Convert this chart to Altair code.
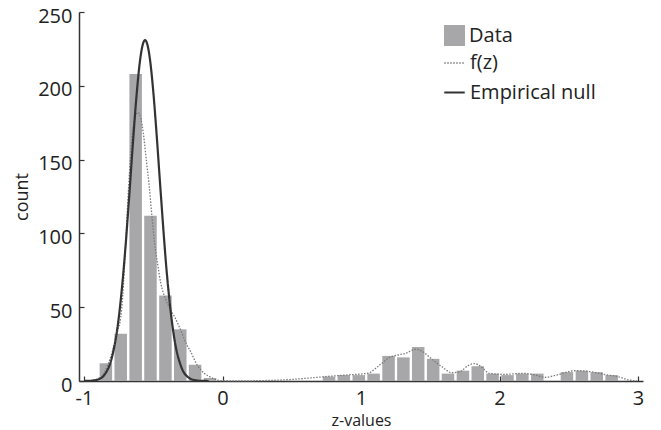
import altair as alt
import pandas as pd

# ---- histogram ----
bin_centers = [-0.842, -0.735, -0.627, -0.520, -0.412, -0.305, -0.198, -0.090,
               0.017, 0.125, 0.232, 0.339, 0.447, 0.554, 0.662, 0.769, 0.876,
               0.984, 1.091, 1.199, 1.306, 1.413, 1.521, 1.628, 1.736, 1.843,
               1.950, 2.058, 2.165, 2.273, 2.380, 2.487, 2.595, 2.702, 2.810]
bin_counts = [12, 32, 208, 112, 58, 35, 11, 2,
              0, 0, 0, 0, 0, 0, 0, 3, 4,
              4, 5, 17, 16, 23, 15, 5, 7, 10,
              5, 4, 5, 5, 0, 6, 7, 6, 4]

# ---- f(z) dotted curve ----
fz_z = [-1.0, -0.95, -0.875, -0.828, -0.792, -0.757, -0.735, -0.72, -0.70, -0.68,
        -0.66, -0.635, -0.61, -0.59, -0.572, -0.548, -0.53, -0.51, -0.49, -0.468,
        -0.445, -0.413, -0.38, -0.343, -0.30, -0.26, -0.225, -0.19, -0.16, -0.13,
        -0.094, -0.05, 0.0, 0.15, 0.3, 0.43, 0.55, 0.66, 0.80, 0.90,
        1.05, 1.135, 1.206, 1.265, 1.324, 1.395, 1.442, 1.513, 1.584, 1.655,
        1.714, 1.773, 1.82, 1.867, 1.927, 2.033, 2.175, 2.246, 2.33, 2.41,
        2.55, 2.648, 2.766, 2.86, 2.943, 2.99]
fz_y = [0.0, 0.3, 3, 11, 21, 34, 43, 58, 92, 128,
        158, 177, 182, 178, 168, 148, 133, 112, 93, 79,
        66, 56, 49, 43, 34, 25, 19, 12, 8, 5,
        3, 1, 0.2, 0.1, 0.3, 0.7, 1.4, 2.3, 3.4, 4.1,
        5.3, 10.8, 16, 17.6, 18.8, 21.5, 20, 14.7, 9.7, 5.6,
        6.3, 10.4, 11.8, 9.7, 5.2, 4.5, 5.2, 4.3, 2.5, 4,
        7, 6.4, 4.3, 2.8, 0.5, 0.2]

# ---- empirical null (solid) ----
null_z = [-1.0, -0.95, -0.90, -0.85, -0.80, -0.75, -0.70, -0.675, -0.65, -0.625,
          -0.60, -0.575, -0.559, -0.54, -0.525, -0.50, -0.475, -0.45, -0.40, -0.35,
          -0.30, -0.25, -0.20, -0.15, -0.10]
null_y = [0.03, 0.18, 1.0, 4.5, 15.4, 42.1, 91.3, 123.3, 157, 188.5,
          213.6, 228.2, 231, 227, 218.8, 196.3, 166.2, 132.8, 71, 30,
          10.1, 2.7, 0.56, 0.09, 0.01]

x_ticks = [-1, 0, 1, 2, 3]
y_ticks = [0, 50, 100, 150, 200, 250]

W, H = 564, 369
FONT = "Open Sans"
TXT = "#222222"

bars_df = pd.DataFrame({"z": bin_centers, "count": bin_counts,
                        "series": ["Data"] * len(bin_centers)})
lines_df = pd.concat([
    pd.DataFrame({"z": fz_z, "count": fz_y, "series": ["f(z)"] * len(fz_z)}),
    pd.DataFrame({"z": null_z, "count": null_y, "series": ["Empirical null"] * len(null_z)}),
], ignore_index=True)

x_scale = alt.Scale(domain=[-1, 3], nice=False, zero=False)
y_scale = alt.Scale(domain=[0, 250], nice=False)

x_axis_main = alt.Axis(
    title="z-values", values=x_ticks, ticks=False, grid=False, labelFlush=False,
    labelExpr="toString(datum.value)", labelFont=FONT, labelFontSize=20,
    labelColor=TXT, labelPadding=7, domainColor="#333333", domainWidth=1.5,
    titleFont=FONT, titleFontSize=16, titleFontWeight="normal", titleColor=TXT,
    titlePadding=4)
y_axis_main = alt.Axis(
    title="count", values=y_ticks, ticks=False, grid=False,
    labelFont=FONT, labelFontSize=20, labelColor=TXT, labelPadding=7,
    labelOffset=4, domainColor="#333333", domainWidth=1.5,
    titleFont=FONT, titleFontSize=18, titleFontWeight="normal", titleColor=TXT,
    titlePadding=6)

x_axis_ticks = alt.Axis(orient="top", offset=-H, values=x_ticks, labels=False,
                        domain=False, grid=False, title=None, ticks=True,
                        tickSize=5, tickColor="#333333", tickWidth=1.2)
y_axis_ticks = alt.Axis(orient="right", offset=-W, values=y_ticks, labels=False,
                        domain=False, grid=False, title=None, ticks=True,
                        tickSize=5, tickColor="#333333", tickWidth=1.2)

bars = alt.Chart(bars_df).mark_bar(size=12.5).encode(
    x=alt.X("z:Q", scale=x_scale, axis=x_axis_main),
    y=alt.Y("count:Q", scale=y_scale, axis=y_axis_main),
    color=alt.Color("series:N",
                    scale=alt.Scale(domain=["Data"], range=["#a7a7a9"]),
                    legend=alt.Legend(title=None, orient="none", legendX=365, legendY=13,
                                      symbolType="square", symbolSize=441,
                                      symbolStrokeWidth=0, labelFont=FONT,
                                      labelFontSize=20, labelColor=TXT,
                                      labelOffset=4, padding=0)),
)

line_names = ["f(z)", "Empirical null"]
line_legend = alt.Legend(title=None, orient="none", legendX=364, legendY=40,
                         symbolType="stroke", symbolSize=420, symbolStrokeWidth=1.6,
                         labelFont=FONT, labelFontSize=20, labelColor=TXT,
                         labelFontWeight="normal", labelOffset=4,
                         rowPadding=8, padding=0)

lines = alt.Chart(lines_df).mark_line(interpolate="monotone").encode(
    x=alt.X("z:Q", scale=x_scale, axis=x_axis_ticks),
    y=alt.Y("count:Q", scale=y_scale, axis=y_axis_ticks),
    color=alt.Color("series:N",
                    scale=alt.Scale(domain=line_names, range=["#7a7a7a", "#333333"]),
                    legend=line_legend),
    strokeDash=alt.StrokeDash("series:N",
                              scale=alt.Scale(domain=line_names, range=[[1.5, 1.5], [1, 0]]),
                              legend=line_legend),
    strokeWidth=alt.StrokeWidth("series:N",
                                scale=alt.Scale(domain=line_names, range=[1.3, 2.2]),
                                legend=None),
)

chart = alt.layer(bars, lines).resolve_scale(
    color="independent", strokeDash="independent", strokeWidth="independent"
).resolve_legend(
    color="independent", strokeDash="independent"
).resolve_axis(
    x="independent", y="independent"
).properties(
    width=W, height=H,
    autosize=alt.AutoSizeParams(type="none"),
    padding={"left": 71, "top": 4, "right": 10, "bottom": 49},
    background="white",
).configure_view(stroke=None)

chart.save("out.html", embed_options={"renderer": "svg", "actions": False})
